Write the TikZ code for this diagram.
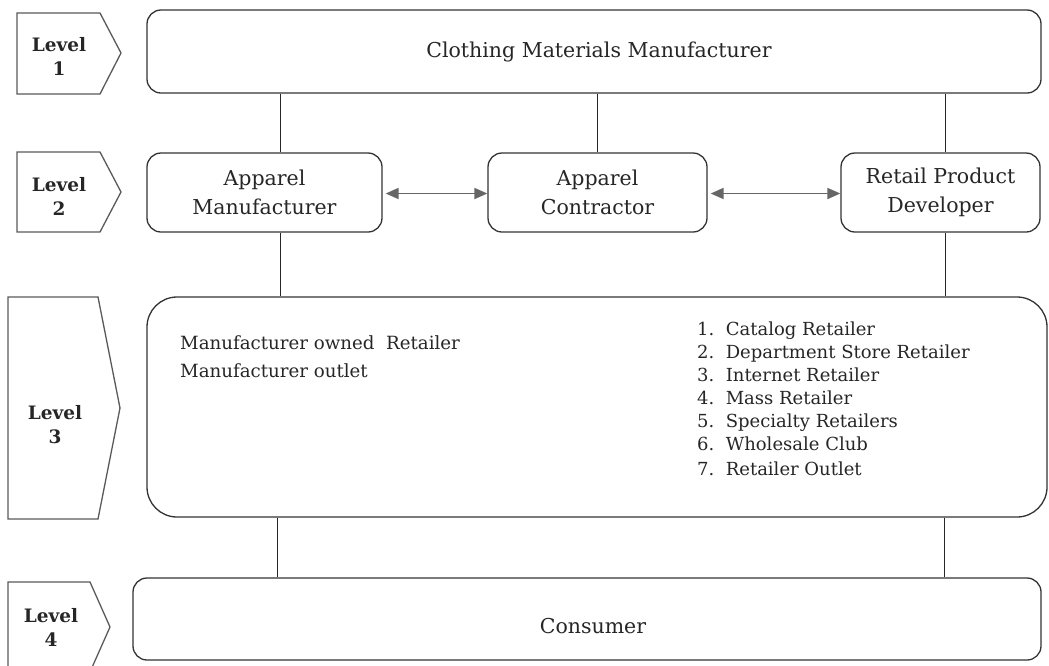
\documentclass[tikz,border=0pt]{standalone}
\usepackage{fontspec}
\setmainfont{DejaVu Serif}
\usetikzlibrary{arrows.meta}
\begin{document}
\begin{tikzpicture}[x=1pt,y=-1pt,
  lvl/.style={draw=black!65,line width=1.3pt,line join=miter},
  lvltext/.style={font=\fontsize{18.5}{24}\selectfont\bfseries,align=center,text=black!85},
  box/.style={draw=black!80,line width=1.3pt,rounded corners=14pt},
  boxtext/.style={font=\fontsize{20.5}{29}\selectfont,align=center,text=black!85},
  conn/.style={draw=black!85,line width=1pt},
  biarrow/.style={draw=black!60,line width=1.8pt,{Triangle[length=13pt,width=11pt]}-{Triangle[length=13pt,width=11pt]}}]
\useasboundingbox (0,0) rectangle (1049,665);
% level shapes
\draw[lvl] (17,13) -- (100,13) -- (121,53) -- (100,94) -- (17,94) -- cycle;
\node[lvltext] (l1) at (59,56) {Level\\1};
\draw[lvl] (17,152) -- (100,152) -- (121,192) -- (100,232) -- (17,232) -- cycle;
\node[lvltext] (l2) at (59,196) {Level\\2};
\draw[lvl] (8,297) -- (98,297) -- (120,408) -- (98,519) -- (8,519) -- cycle;
\node[lvltext] (l3) at (55,425) {Level\\3};
\draw[lvl] (8,582) -- (90,582) -- (110,627) -- (90,672) -- (8,672) -- cycle;
\node[lvltext] (l4) at (51,627) {Level\\4};
% boxes
\node[box,minimum width=894pt,minimum height=83pt] (cmm) at (594,51.5) {};
\node[boxtext] (cmmtxt) at (599,52) {Clothing Materials Manufacturer};
\node[box,boxtext,minimum width=235pt,minimum height=79pt] (am) at (264.5,192.5) {Apparel\\Manufacturer};
\node[box,boxtext,minimum width=219pt,minimum height=79pt] (ac) at (597.5,192.5) {Apparel\\Contractor};
\node[box,boxtext,minimum width=199pt,minimum height=79pt] (rpd) at (940.5,192.5) {Retail Product\\Developer};
\node[box,rounded corners=30pt,minimum width=900pt,minimum height=220pt] (ret) at (597,407) {};
\node[box,minimum width=908pt,minimum height=82pt] (con) at (587,619) {};
\node[boxtext] (contxt) at (593,626) {Consumer};
% box 3 content
\node[boxtext,align=left,anchor=west,inner sep=0pt,font=\fontsize{18.2}{28}\selectfont] (own) at (180,357) {Manufacturer owned\ \ Retailer\\Manufacturer outlet};
\node[boxtext,align=left,anchor=west,inner sep=0pt,font=\fontsize{18}{23}\selectfont] (list) at (697,399) {1.\ \ Catalog Retailer\\2.\ \ Department Store Retailer\\3.\ \ Internet Retailer\\4.\ \ Mass Retailer\\5.\ \ Specialty Retailers\\6.\ \ Wholesale Club\\[2pt]7.\ \ Retailer Outlet};
% connectors
\draw[conn] (cmm.south -| am.north) ++(16,0) coordinate (c1) -- (c1 |- am.north);
\draw[conn] (cmm.south -| ac.north) -- (ac.north);
\draw[conn] (cmm.south -| rpd.north) ++(5,0) coordinate (c3) -- (c3 |- rpd.north);
\draw[conn] (am.south) ++(16,0) coordinate (c4) -- (c4 |- ret.north);
\draw[conn] (rpd.south) ++(5,0) coordinate (c5) -- (c5 |- ret.north);
\draw[conn] (ret.south) ++(-320,0) coordinate (c6) -- (c6 |- con.north);
\draw[conn] (ret.south) ++(347,0) coordinate (c7) -- (c7 |- con.north);
\draw[biarrow] (am.east) ++(3,1) coordinate (a1) -- (a1 -| ac.west);
\draw[biarrow] (ac.east) ++(3,1) coordinate (a2) -- (a2 -| rpd.west);
\end{tikzpicture}
\end{document}
